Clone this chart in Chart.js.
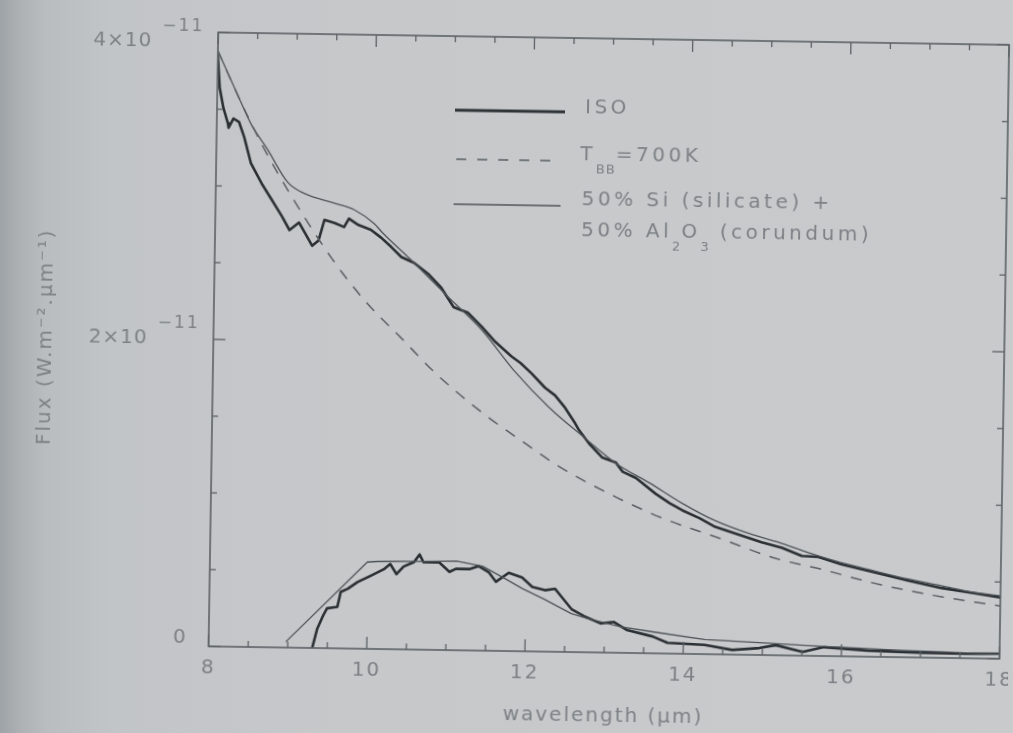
<!DOCTYPE html>
<html><head><meta charset="utf-8">
<script src="https://cdn.jsdelivr.net/npm/chart.js@4.4.0/dist/chart.umd.min.js"></script>
<style>
html,body{margin:0;padding:0;width:1013px;height:733px;overflow:hidden;
background:linear-gradient(to right,#9ea3a7 0px,#adb1b4 20px,#babdc0 45px,#c2c5c7 110px,#c6c8ca 350px,#c8cacc 1013px);}
#wrap{position:absolute;left:0;top:0;width:1013px;height:733px;transform:rotate(0.9deg);transform-origin:506.5px 366.5px;}
canvas{display:block}
</style></head><body>
<div id="wrap"><canvas id="c" width="1013" height="733"></canvas></div>
<script>
// ---------- data (flux in units of 1e-11 W m^-2 um^-1) ----------
const isoWl   = [8.00,8.03,8.08,8.14,8.15,8.21,8.28,8.35,8.44,8.58,8.71,8.84,8.94,9.06,9.14,9.23,9.31,9.38,9.51,9.63,9.69,9.81,9.97,10.10,10.23,10.36,10.52,10.70,10.87,11.03,11.21,11.39,11.55,11.77,11.89,12.03,12.20,12.33,12.46,12.59,12.64,12.77,12.94,13.11,13.20,13.37,13.62,13.80,13.96,14.18,14.38,14.63,14.81,14.97,15.23,15.48,15.69,15.98,16.40,16.83,17.25,17.66,18.00];
const isoFlux = [3.85,3.64,3.51,3.41,3.38,3.44,3.42,3.32,3.15,3.02,2.915,2.81,2.72,2.77,2.70,2.62,2.655,2.79,2.77,2.745,2.80,2.76,2.73,2.68,2.62,2.555,2.52,2.45,2.36,2.235,2.20,2.11,2.02,1.92,1.876,1.81,1.72,1.67,1.59,1.49,1.446,1.36,1.27,1.24,1.18,1.14,1.04,0.98,0.935,0.885,0.83,0.79,0.76,0.735,0.70,0.65,0.645,0.60,0.55,0.50,0.455,0.425,0.40];

const bbWl    = [8.00,8.30,8.59,8.96,9.48,9.92,10.37,10.82,11.40,11.90,12.42,13.12,13.72,14.44,15.11,15.74,16.37,17.04,17.66,18.00];
const bbFlux  = [3.88,3.55,3.26,2.94,2.54,2.26,2.03,1.80,1.555,1.376,1.20,1.014,0.88,0.756,0.637,0.564,0.483,0.416,0.368,0.344];

const modelWl   = [8.00,8.29,8.43,8.65,8.91,9.12,9.50,9.75,10.01,10.12,10.52,10.96,11.39,11.82,12.26,12.68,13.11,13.54,13.96,14.38,14.81,15.19,15.57,15.98,16.40,16.83,17.25,17.66,18.00];
const modelFlux = [3.88,3.56,3.41,3.24,3.03,2.96,2.90,2.86,2.77,2.71,2.52,2.30,2.09,1.82,1.59,1.41,1.235,1.11,0.98,0.87,0.79,0.735,0.67,0.61,0.56,0.51,0.47,0.43,0.41];

const isoResWl   = [9.31,9.37,9.44,9.49,9.62,9.66,9.75,9.87,10.03,10.20,10.28,10.36,10.45,10.58,10.65,10.70,10.90,11.03,11.11,11.28,11.40,11.53,11.62,11.78,11.95,12.08,12.24,12.37,12.45,12.58,12.74,12.95,13.12,13.28,13.61,13.80,14.27,14.62,14.96,15.17,15.51,15.78,16.33,17.02,17.58,18.00];
const isoResFlux = [0.0,0.126,0.21,0.26,0.27,0.368,0.39,0.434,0.475,0.52,0.555,0.49,0.54,0.57,0.62,0.57,0.57,0.51,0.53,0.53,0.55,0.51,0.45,0.51,0.48,0.42,0.40,0.41,0.36,0.28,0.235,0.19,0.20,0.15,0.11,0.07,0.06,0.03,0.045,0.066,0.025,0.058,0.04,0.032,0.03,0.033];

const modelResWl   = [8.98,9.99,10.11,10.70,11.12,11.45,11.74,11.95,12.24,12.58,12.78,13.20,13.61,14.27,14.96,15.52,16.77,18.00];
const modelResFlux = [0.04,0.565,0.57,0.576,0.58,0.55,0.47,0.41,0.34,0.25,0.22,0.17,0.14,0.095,0.08,0.068,0.045,0.03];

const xMajorTicks = [8,10,12,14,16,18];
const xTickLabels = ['8','10','12','14','16','18'];
const yMajorTicks = [0,2,4];
const yTickMain   = ['0','2×10','4×10'];
const yTickSup    = ['','−11','−11'];
const xTitle = 'wavelength (µm)';
const yTitle = 'Flux (W.m⁻².µm⁻¹)';
const legendLabels = ['ISO','T|BB|=700K','50% Si (silicate) +','50% Al|2|O|3| (corundum)'];

// ---------- styling ----------
const TEXT = '#7d8185', AXIS = '#5c6165';
const FONT = '"DejaVu Sans", sans-serif';
const pts = (xs, ys) => xs.map((v, i) => ({x: v, y: ys[i]}));

const frameTicks = {
  id: 'frameTicks',
  beforeDraw(chart) { chart.ctx.letterSpacing = '2px'; },
  afterDraw(chart) {
    const {ctx, chartArea: a, scales: {x, y}} = chart;
    ctx.save();
    ctx.letterSpacing = '0px';
    ctx.strokeStyle = AXIS; ctx.lineWidth = 1.6;
    ctx.strokeRect(a.left, a.top, a.right - a.left, a.bottom - a.top);
    ctx.lineWidth = 1.3;
    const seg = (x1, y1, x2, y2) => { ctx.beginPath(); ctx.moveTo(x1, y1); ctx.lineTo(x2, y2); ctx.stroke(); };
    for (let v = x.min; v <= x.max + 1e-9; v += 0.5) {
      const p = x.getPixelForValue(v);
      const L = xMajorTicks.includes(Math.round(v * 2) / 2) ? 12 : 6;
      seg(p, a.bottom, p, a.bottom - L); seg(p, a.top, p, a.top + L);
    }
    for (let v = y.min; v <= y.max + 1e-9; v += 0.5) {
      const p = y.getPixelForValue(v);
      const L = yMajorTicks.includes(Math.round(v * 2) / 2) ? 12 : 6;
      seg(a.left, p, a.left + L, p); seg(a.right, p, a.right - L, p);
    }
    // y tick labels with superscript exponent
    const dys = [-8, 0, 10];
    ctx.fillStyle = TEXT; ctx.textBaseline = 'middle'; ctx.textAlign = 'right';
    yMajorTicks.forEach((v, i) => {
      const py = y.getPixelForValue(v) + dys[i];
      let right = a.left - 14;
      if (yTickSup[i]) {
        ctx.font = '17px ' + FONT; ctx.letterSpacing = '2px';
        ctx.fillText(yTickSup[i], right, py - 15);
        right -= ctx.measureText(yTickSup[i]).width + 10;
      } else {
        right -= 8;
      }
      ctx.font = '20px ' + FONT; ctx.letterSpacing = '1px';
      ctx.fillText(yTickMain[i], right, py);
    });
    ctx.restore();
  }
};

const legendBox = {
  id: 'legendBox',
  afterDraw(chart) {
    const {ctx, chartArea: a} = chart;
    ctx.save();
    const L = a.left, T = a.top;
    const line = (x1, x2, yy, w, dash, col) => {
      ctx.beginPath(); ctx.setLineDash(dash); ctx.lineWidth = w; ctx.strokeStyle = col;
      ctx.moveTo(L + x1, T + yy); ctx.lineTo(L + x2, T + yy); ctx.stroke();
    };
    line(238, 348, 74, 3.2, [], '#2e3337');
    line(240, 345, 123, 1.5, [10, 11], '#5a5f63');
    line(238, 345, 168, 1.3, [], '#4f5458');
    ctx.setLineDash([]);
    ctx.fillStyle = TEXT; ctx.textBaseline = 'middle'; ctx.textAlign = 'left';
    const rich = (str, x0, yy) => {
      let x = L + x0;
      str.split('|').forEach((s, i) => {
        const sub = i % 2 === 1;
        ctx.font = (sub ? '13px ' : '20px ') + FONT;
        ctx.letterSpacing = sub ? '1px' : '3.5px';
        ctx.fillText(s, x, T + yy + (sub ? 15 : 0));
        x += ctx.measureText(s).width;
      });
    };
    rich(legendLabels[0], 368, 70);
    rich(legendLabels[1], 364, 117);
    rich(legendLabels[2], 366, 162);
    rich(legendLabels[3], 366, 193);
    ctx.restore();
  }
};

Chart.defaults.font.family = FONT;
new Chart(document.getElementById('c'), {
  type: 'line',
  data: {
    datasets: [
      {label: 'T_BB=700K', data: pts(bbWl, bbFlux), borderColor: '#5a5f63', borderWidth: 1.5, borderDash: [10, 11], cubicInterpolationMode: 'monotone'},
      {label: '50% Si + 50% Al2O3', data: pts(modelWl, modelFlux), borderColor: '#4f5458', borderWidth: 1.3, cubicInterpolationMode: 'monotone'},
      {label: 'model residual', data: pts(modelResWl, modelResFlux), borderColor: '#4f5458', borderWidth: 1.3, tension: 0},
      {label: 'ISO residual', data: pts(isoResWl, isoResFlux), borderColor: '#2b3034', borderWidth: 2.6, tension: 0},
      {label: 'ISO', data: pts(isoWl, isoFlux), borderColor: '#2b3034', borderWidth: 2.6, tension: 0}
    ]
  },
  options: {
    responsive: false, animation: false, devicePixelRatio: 1,
    layout: {padding: {top: 37, right: 9, left: 0, bottom: 0}},
    elements: {point: {radius: 0}, line: {borderJoinStyle: 'round', borderCapStyle: 'round', fill: false}},
    plugins: {legend: {display: false}, tooltip: {enabled: false}},
    scales: {
      x: {
        type: 'linear', min: 8, max: 18,
        afterFit(s) { s.height = 82; s.paddingLeft = 0; s.paddingRight = 0; },
        afterBuildTicks(s) { s.ticks = xMajorTicks.map(v => ({value: v})); },
        grid: {display: false, drawTicks: false}, border: {display: false},
        ticks: {callback: (v) => xTickLabels[xMajorTicks.indexOf(v)], font: {size: 20}, color: TEXT, padding: 10, maxRotation: 0, autoSkip: false},
        title: {display: true, text: xTitle, font: {size: 20}, color: TEXT, padding: {top: 0, bottom: 6}}
      },
      y: {
        type: 'linear', min: 0, max: 4,
        afterFit(s) { s.width = 213; s.paddingTop = 0; s.paddingBottom = 0; },
        grid: {display: false, drawTicks: false}, border: {display: false},
        ticks: {display: false},
        title: {display: true, text: yTitle, font: {size: 20}, color: TEXT, padding: {top: 34, bottom: 0}}
      }
    }
  },
  plugins: [frameTicks, legendBox]
});
</script>
</body></html>
